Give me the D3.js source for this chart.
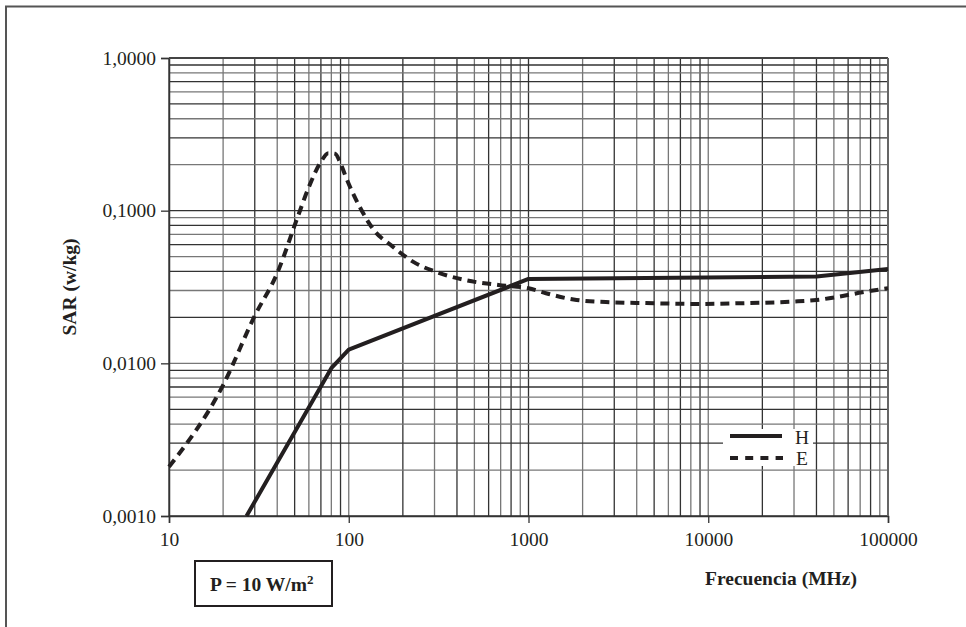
<!DOCTYPE html>
<html>
<head>
<meta charset="utf-8">
<script src="https://cdn.jsdelivr.net/npm/d3@7"></script>
<style>
  body { margin: 0; background: #fff; }
  svg { display: block; }
  text { font-family: "Liberation Serif", "Times New Roman", serif; fill: #231f20; }
</style>
</head>
<body>
<div id="chart"></div>
<script>
// frequencies (MHz) and SAR (w/kg)
var freq_H = [27, 80, 100, 1000, 40000, 100000];
var sar_H  = [0.0010, 0.0093, 0.0123, 0.0357, 0.037, 0.0415];

var freq_E = [10, 20, 30, 40, 52, 60, 70, 77, 84, 90, 97, 115, 140, 170, 230, 320, 450, 680, 1000, 1250, 1850, 2900, 4500, 8500, 16000, 30000, 40000, 53000, 72000, 100000];
var sar_E  = [0.0021, 0.0072, 0.0205, 0.039, 0.091, 0.143, 0.209, 0.238, 0.236, 0.204, 0.163, 0.106, 0.073, 0.060, 0.046, 0.039, 0.035, 0.0326, 0.031, 0.0288, 0.026, 0.0251, 0.0248, 0.0245, 0.0248, 0.0254, 0.026, 0.0273, 0.0292, 0.031];

var x_ticks = [10, 100, 1000, 10000, 100000];
var y_ticks = [0.001, 0.01, 0.1, 1];
var y_tick_labels = ["0,0010", "0,0100", "0,1000", "1,0000"];

var dataH = freq_H.map(function (f, i) { return {f: f, v: sar_H[i]}; });
var dataE = freq_E.map(function (f, i) { return {f: f, v: sar_E[i]}; });

var W = 966, H = 627;
var margin = {top: 58, right: 78, bottom: 111, left: 169},
  width = W - margin.left - margin.right,
  height = H - margin.top - margin.bottom;

var root = d3.select("#chart").append("svg")
  .attr("width", W)
  .attr("height", H);

// outer frame (cut at right and bottom)
root.append("rect")
  .attr("x", 6).attr("y", 6.5)
  .attr("width", W + 20).attr("height", H + 20)
  .style("fill", "none").style("stroke", "#555").style("stroke-width", 2);

var svg = root.append("g")
  .attr("transform", "translate(" + margin.left + "," + margin.top + ")");

var x = d3.scaleLog().domain([10, 100000]).range([0, width]);
var y = d3.scaleLog().domain([0.001, 1]).range([height, 0]);

// grid lines at 1..9 of each decade
var xGrid = [], yGrid = [];
for (var p = 1; p <= 4; p++) for (var m = 1; m <= 9; m++) xGrid.push(m * Math.pow(10, p));
xGrid.push(100000);
for (var q = -3; q <= -1; q++) for (var k = 1; k <= 9; k++) yGrid.push(k * Math.pow(10, q));
yGrid.push(1);

svg.append("g").selectAll("line")
  .data(xGrid).enter().append("line")
  .attr("x1", function (d) { return x(d); }).attr("x2", function (d) { return x(d); })
  .attr("y1", 0).attr("y2", height)
  .style("stroke", function (d, i) { return i % 2 ? "#777" : "#333"; })
  .style("stroke-width", 1.3);

svg.append("g").selectAll("line")
  .data(yGrid).enter().append("line")
  .attr("x1", 0).attr("x2", width)
  .attr("y1", function (d) { return y(d); }).attr("y2", function (d) { return y(d); })
  .style("stroke", function (d, i) { return i % 2 ? "#777" : "#333"; })
  .style("stroke-width", 1.3);

// axes
var yAxis = svg.append("g")
  .call(d3.axisLeft(y).tickValues(y_ticks).tickSize(8).tickPadding(5)
    .tickFormat(function (d, i) { return y_tick_labels[i]; }));
yAxis.select(".domain").style("stroke", "#333").style("stroke-width", 1.5);
yAxis.selectAll(".tick line").style("stroke", "#333").style("stroke-width", 1.3);
yAxis.selectAll("text").style("font-size", "19.5px").style("font-family", "Liberation Serif").style("fill", "#231f20");

var xAxis = svg.append("g")
  .attr("transform", "translate(0," + height + ")")
  .call(d3.axisBottom(x).tickValues(x_ticks).tickSize(7).tickPadding(9)
    .tickFormat(d3.format("d")));
xAxis.select(".domain").style("stroke", "#333").style("stroke-width", 1.5);
xAxis.selectAll(".tick line").style("stroke", "#333").style("stroke-width", 1.3);
xAxis.selectAll("text").style("font-size", "19.5px").style("font-family", "Liberation Serif").style("fill", "#231f20");

// top and right border
svg.append("line").attr("x1", 0).attr("x2", width).attr("y1", 0).attr("y2", 0)
  .style("stroke", "#444").style("stroke-width", 2);
svg.append("line").attr("x1", width).attr("x2", width).attr("y1", 0).attr("y2", height)
  .style("stroke", "#666").style("stroke-width", 2);

// curves
var lineLin = d3.line()
  .x(function (d) { return x(d.f); })
  .y(function (d) { return y(d.v); });
var lineSmooth = d3.line()
  .x(function (d) { return x(d.f); })
  .y(function (d) { return y(d.v); })
  .curve(d3.curveMonotoneX);

svg.append("path").datum(dataE)
  .attr("d", lineSmooth)
  .style("fill", "none").style("stroke", "#231f20").style("stroke-width", 4)
  .style("stroke-dasharray", "9,6");

svg.append("path").datum(dataH)
  .attr("d", lineLin)
  .style("fill", "none").style("stroke", "#231f20").style("stroke-width", 4)
  .style("stroke-linejoin", "round");

// legend
var lg = root.append("g");
lg.append("rect").attr("x", 723).attr("y", 429).attr("width", 90).attr("height", 37).style("fill", "#fff");
lg.append("line").attr("x1", 730).attr("x2", 782).attr("y1", 436).attr("y2", 436)
  .style("stroke", "#231f20").style("stroke-width", 4);
lg.append("line").attr("x1", 730).attr("x2", 783).attr("y1", 458).attr("y2", 458)
  .style("stroke", "#231f20").style("stroke-width", 4).style("stroke-dasharray", "8,7.2");
lg.append("text").attr("x", 795).attr("y", 444).text("H").style("font-size", "19.5px");
lg.append("text").attr("x", 796).attr("y", 465).text("E").style("font-size", "19.5px");

// axis labels
root.append("text")
  .attr("transform", "translate(76," + (margin.top + height / 2) + ") rotate(-90)")
  .attr("text-anchor", "middle")
  .text("SAR (w/kg)")
  .style("font-size", "19.5px").style("font-weight", "bold");

root.append("text")
  .attr("x", 781).attr("y", 585)
  .attr("text-anchor", "middle")
  .text("Frecuencia (MHz)")
  .style("font-size", "19.5px").style("font-weight", "bold");

// power density box
root.append("rect").attr("x", 195).attr("y", 561).attr("width", 137).attr("height", 45)
  .style("fill", "#fff").style("stroke", "#231f20").style("stroke-width", 2);
var pt = root.append("text").attr("x", 210).attr("y", 591)
  .style("font-size", "19.5px").style("font-weight", "bold");
pt.append("tspan").text("P = 10 W/m");
pt.append("tspan").attr("dy", -7).style("font-size", "13px").text("2");
</script>
</body>
</html>
